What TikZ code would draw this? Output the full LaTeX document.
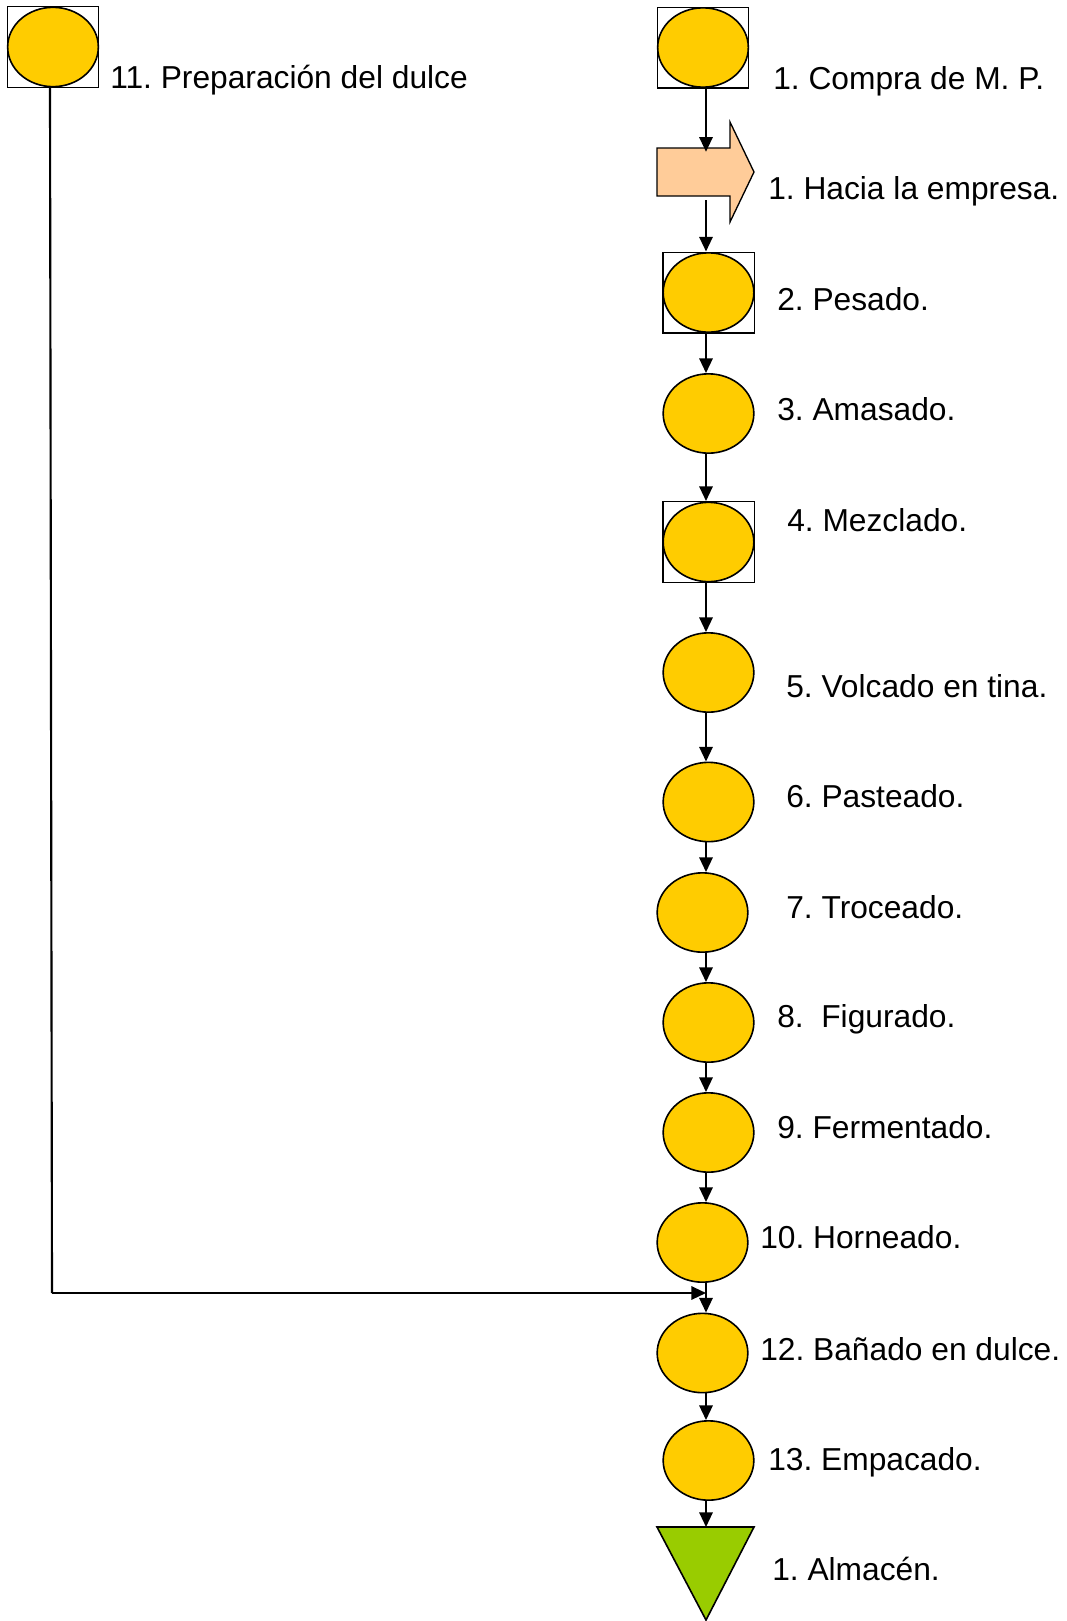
\documentclass[tikz,border=0pt]{standalone}
\usepackage{fontspec}
\setmainfont{Liberation Sans}
\usetikzlibrary{arrows.meta,shapes.geometric}
\definecolor{opyel}{HTML}{FFCC00}
\definecolor{trpeach}{HTML}{FFCC99}
\definecolor{stgreen}{HTML}{99CC00}
\frenchspacing
\begin{document}
\frenchspacing
\begin{tikzpicture}[x=0.75pt,y=-0.75pt,
  op/.style={ellipse,draw=black,line width=1.2pt,fill=opyel,inner sep=0pt,minimum width=68pt,minimum height=59.5pt},
  insp/.style={rectangle,draw=black,line width=1pt,fill=white,inner sep=0pt,minimum width=68.5pt,minimum height=60.5pt},
  lbl/.style={anchor=base west,inner sep=0pt,font=\fontsize{23.8pt}{28pt}\selectfont},
  arr/.style={line width=1.6pt,-{Triangle[length=11pt,width=10pt]}},
  conn/.style={line width=1.6pt}]
\useasboundingbox (0,0) rectangle (1067,1621);
\coordinate (colx) at (706,0);
% 11
\node[insp] (b11) at (53,47) {};
\node[op] (e11) at (53,47) {};
\node[lbl] (t11) at (110,88) {11. Preparación del dulce};
% 1
\node[insp] (b1) at (703,47.5) {};
\node[op] (e1) at (703,47.5) {};
\node[lbl] (t1) at (773,89) {1. Compra de M. P.};
% transport arrow
\node[inner sep=0pt,minimum width=54.75pt,minimum height=36pt] (ba) at (693.5,172) {};
\draw[line width=1pt,fill=trpeach] (657,148) -- (730,148) -- (730,122) -- (754,172) -- (730,222) -- (730,196) -- (657,196) -- cycle;
\node[lbl] (tb) at (768,199) {1. Hacia la empresa.};
% 2
\node[insp] (b2) at (708.5,292.5) {};
\node[op] (e2) at (708.5,292.5) {};
\node[lbl] (t2) at (777,310) {2. Pesado.};
% 3
\node[op] (e3) at (708.5,413.5) {};
\node[lbl] (t3) at (777,420) {3. Amasado.};
% 4
\node[insp] (b4) at (708.5,542) {};
\node[op] (e4) at (708.5,542) {};
\node[lbl] (t4) at (787,531) {4. Mezclado.};
% 5
\node[op] (e5) at (708.5,672.5) {};
\node[lbl] (t5) at (786,697) {5. Volcado en tina.};
% 6
\node[op] (e6) at (708.5,802) {};
\node[lbl] (t6) at (786,807) {6. Pasteado.};
% 7
\node[op] (e7) at (702.5,912.5) {};
\node[lbl] (t7) at (786,918) {7. Troceado.};
% 8
\node[op] (e8) at (708.5,1022.5) {};
\node[lbl] (t8) at (777,1027) {8.\ \ Figurado.};
% 9
\node[op] (e9) at (708.5,1132.5) {};
\node[lbl] (t9) at (777,1138) {9. Fermentado.};
% 10
\node[op] (e10) at (702.5,1242.5) {};
\node[lbl] (t10) at (760,1248) {10. Horneado.};
% 12
\node[op] (e12) at (702.5,1353) {};
\node[lbl] (t12) at (760,1360) {12. Bañado en dulce.};
% 13
\node[op] (e13) at (708.5,1460.5) {};
\node[lbl] (t13) at (768,1470) {13. Empacado.};
% store
\draw[line width=1.2pt,fill=stgreen] (657,1527) -- (754,1527) -- (706,1620) -- cycle;
\coordinate (alm) at (706,1527);
\node[lbl] (ta) at (772,1580) {1. Almacén.};
% connectors
\draw[arr] (b1.south -| colx) -- ([yshift=-3pt]ba.north -| colx);
\draw[arr] ([yshift=-3pt]ba.south -| colx) -- (b2.north -| colx);
\draw[arr] (b2.south -| colx) -- (e3.north -| colx);
\draw[arr] (e3.south -| colx) -- (b4.north -| colx);
\draw[arr] (b4.south -| colx) -- (e5.north -| colx);
\draw[arr] (e5.south -| colx) -- (e6.north -| colx);
\draw[arr] (e6.south -| colx) -- (e7.north -| colx);
\draw[arr] (e7.south -| colx) -- (e8.north -| colx);
\draw[arr] (e8.south -| colx) -- (e9.north -| colx);
\draw[arr] (e9.south -| colx) -- (e10.north -| colx);
\draw[arr] (e10.south -| colx) -- (e12.north -| colx);
\draw[arr] (e12.south -| colx) -- (e13.north -| colx);
\draw[arr] (e13.south -| colx) -- (alm);
\coordinate (k1) at (52,1293);
\draw[conn] ([xshift=-2.25pt]b11.south) -- (k1);
\draw[arr] (k1) -- (k1 -| colx);
\end{tikzpicture}
\end{document}
